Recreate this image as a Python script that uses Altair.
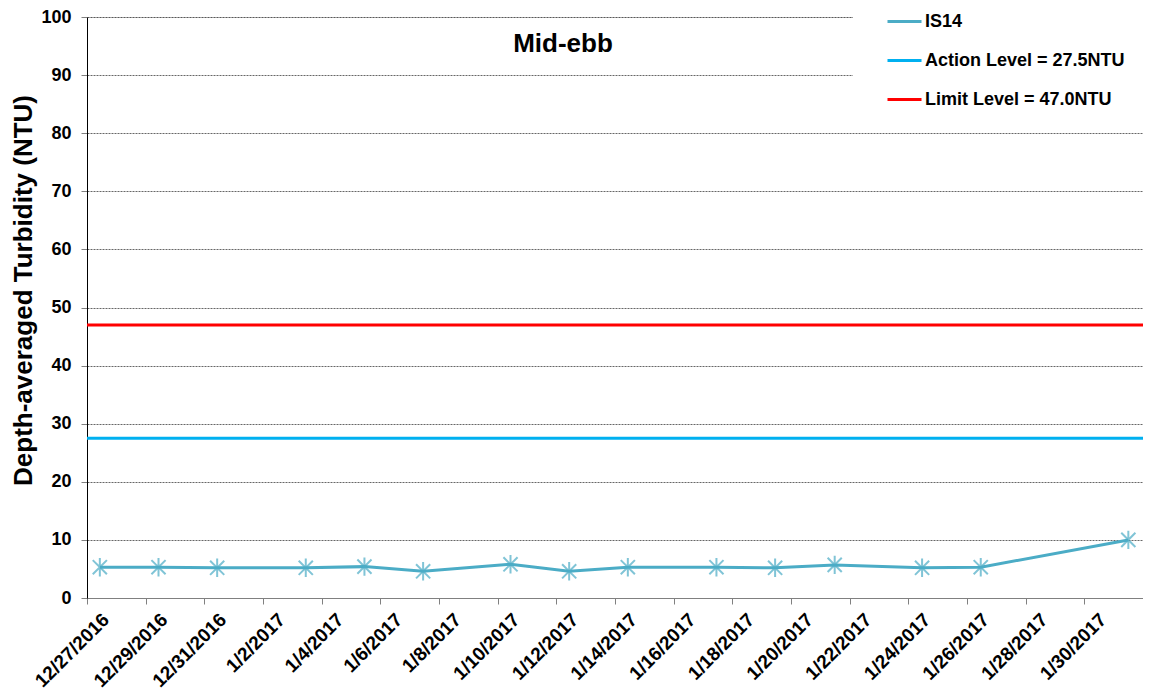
import altair as alt
import pandas as pd

# Sampling times (UTC) and depth-averaged turbidity for IS14, mid-ebb
times = [
    "2016-12-27T10:30:00Z", "2016-12-29T10:30:00Z", "2016-12-31T10:30:00Z",
    "2017-01-03T11:00:00Z", "2017-01-05T11:00:00Z", "2017-01-07T11:00:00Z",
    "2017-01-10T10:30:00Z", "2017-01-12T10:30:00Z", "2017-01-14T10:30:00Z",
    "2017-01-17T11:00:00Z", "2017-01-19T11:00:00Z", "2017-01-21T11:45:00Z",
    "2017-01-24T11:15:00Z", "2017-01-26T11:15:00Z", "2017-01-31T12:00:00Z",
]
turbidity = [5.3, 5.3, 5.2, 5.2, 5.4, 4.6, 5.8, 4.6, 5.3, 5.3, 5.2, 5.7, 5.2, 5.3, 10.0]

series_name = "IS14"
action_label = "Action Level = 27.5NTU"
limit_label = "Limit Level = 47.0NTU"
action_level = 27.5
limit_level = 47.0

tick_dates = [(2016, 12, 27), (2016, 12, 29), (2016, 12, 31), (2017, 1, 2), (2017, 1, 4),
              (2017, 1, 6), (2017, 1, 8), (2017, 1, 10), (2017, 1, 12), (2017, 1, 14),
              (2017, 1, 16), (2017, 1, 18), (2017, 1, 20), (2017, 1, 22), (2017, 1, 24),
              (2017, 1, 26), (2017, 1, 28), (2017, 1, 30)]

FONT = "Liberation Sans"
TEAL = "#4BACC6"
CYAN = "#00B0F0"
RED = "#FF0000"

df = pd.DataFrame({"time": times, "value": turbidity, "series": series_name})
levels = pd.DataFrame({"value": [action_level, limit_level],
                       "series": [action_label, limit_label]})

color_scale = alt.Scale(domain=[series_name, action_label, limit_label],
                        range=[TEAL, CYAN, RED])

x_enc = alt.X(
    "time:T",
    scale=alt.Scale(type="utc",
                    domain=[alt.DateTime(year=2016, month=12, date=27, utc=True),
                            alt.DateTime(year=2017, month=2, date=1, utc=True)]),
    axis=alt.Axis(
        title=None,
        values=[alt.DateTime(year=y, month=m, date=d, utc=True) for (y, m, d) in tick_dates],
        labelExpr="utcFormat(datum.value, '%-m/%-d/%Y')",
        labelAngle=-45, labelAlign="right", labelBaseline="top",
        labelFont=FONT, labelFontSize=19, labelFontWeight="bold", labelColor="black",
        labelPadding=6, labelOffset=12, labelOverlap=False, labelBound=False,
        domainColor="#808080", tickColor="#808080", tickSize=6,
        grid=False,
    ),
)

y_scale = alt.Scale(domain=[0, 100], nice=False)
y_axis = alt.Axis(
    title="Depth-averaged Turbidity (NTU)",
    titleFont=FONT, titleFontSize=26, titleFontWeight="bold", titleColor="black",
    titlePadding=4, titleY=273,
    values=list(range(0, 101, 10)),
    labelFont=FONT, labelFontSize=18, labelFontWeight="bold", labelColor="black",
    labelPadding=10,
    domainColor="black", tickColor="#808080", tickSize=6,
    grid=True, gridColor="black", gridDash=[2, 1], gridWidth=0.6,
)

legend_box = alt.Chart(pd.DataFrame({"k": [0]})).mark_rect(color="white").encode(
    x=alt.value(766), x2=alt.value(1070), y=alt.value(-20), y2=alt.value(95)
)

line = alt.Chart(df).mark_line(strokeWidth=3).encode(
    x=x_enc,
    y=alt.Y("value:Q", scale=y_scale, axis=y_axis),
    color=alt.Color("series:N", scale=color_scale,
                    legend=alt.Legend(
                        title=None, orient="none", legendX=787, legendY=-26,
                        padding=12,
                        symbolType="stroke", symbolSize=1156, symbolStrokeWidth=3,
                        labelFont=FONT, labelFontSize=18, labelFontWeight="bold",
                        labelColor="black", rowPadding=11, labelOffset=2, labelLimit=400,
                    )),
)

star = "M-1,-1L1,1M1,-1L-1,1M0,-1.3L0,1.3"
points = alt.Chart(df).mark_point(shape=star, size=200, strokeWidth=2,
                                  filled=False, color=TEAL).encode(
    x="time:T",
    y=alt.Y("value:Q", scale=y_scale),
)

rules = alt.Chart(levels).mark_rule(strokeWidth=3).encode(
    y=alt.Y("value:Q", scale=y_scale),
    color=alt.Color("series:N", scale=color_scale),
)

title_text = alt.Chart(pd.DataFrame({"t": ["Mid-ebb"]})).mark_text(
    font=FONT, fontSize=26, fontWeight="bold", color="black", align="center", baseline="middle"
).encode(text="t:N", x=alt.value(476), y=alt.value(27))

chart = alt.layer(legend_box, rules, line, points, title_text).properties(
    width=1056, height=581,
    autosize=alt.AutoSizeParams(type="none"),
    padding={"left": 79, "top": 9, "right": 0, "bottom": 92},
).configure_view(stroke=None).configure(background="white")

chart.save("out.html", embed_options={"renderer": "svg", "actions": False})
